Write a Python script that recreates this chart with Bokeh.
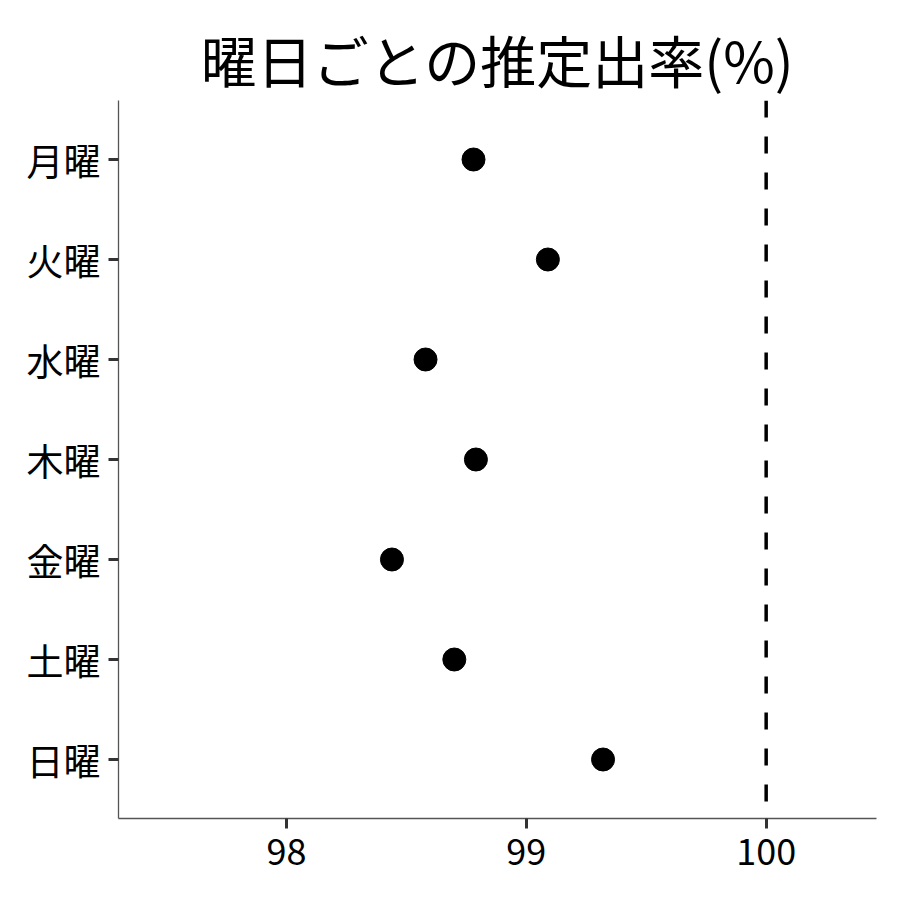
from bokeh.plotting import figure
from bokeh.models import FactorRange, Range1d, Span
from bokeh.embed import file_html
from bokeh.resources import INLINE

days = ["月曜", "火曜", "水曜", "木曜", "金曜", "土曜", "日曜"]
rates = [98.78, 99.09, 98.58, 98.79, 98.44, 98.70, 99.32]
ref_value = 100
x_ticks = [98, 99, 100]
title_text = "曜日ごとの推定出率(%)"

FONT = "Noto Sans CJK JP"

p = figure(
    width=884, height=884,
    y_range=FactorRange(*reversed(days), range_padding=0.09, range_padding_units="absolute"),
    x_range=Range1d(97.3, 100.46),
    output_backend="svg", toolbar_location=None,
    title=title_text,
    min_border_left=118, min_border_right=8, min_border_bottom=66, min_border_top=100,
)
p.title.text_font = FONT
p.title.text_font_size = "56px"
p.title.text_font_style = "normal"
p.title.align = "center"
p.title.vertical_align = "top"
p.title.text_color = "black"
p.title.standoff = 0

p.outline_line_color = None
p.xgrid.visible = False
p.ygrid.visible = False

for ax in (p.xaxis[0], p.yaxis[0]):
    ax.axis_line_color = "#555555"
    ax.axis_line_width = 1.3
    ax.major_tick_line_color = "#333333"
    ax.major_tick_line_width = 3
    ax.major_tick_in = 0
    ax.major_tick_out = 10
    ax.minor_tick_line_color = None
    ax.major_label_text_font = FONT
    ax.major_label_text_color = "black"

p.xaxis.major_label_text_font_size = "36px"
p.yaxis.major_label_text_font_size = "37px"
p.xaxis.ticker = x_ticks
p.xaxis.major_label_standoff = 10
p.yaxis.major_label_standoff = 8

p.add_layout(Span(location=ref_value, dimension="height", line_color="black",
                  line_width=3.5, line_dash="17 19"))

p.scatter(x=rates, y=days, size=23, color="black")

open("out.html", "w").write(file_html(p, INLINE))
